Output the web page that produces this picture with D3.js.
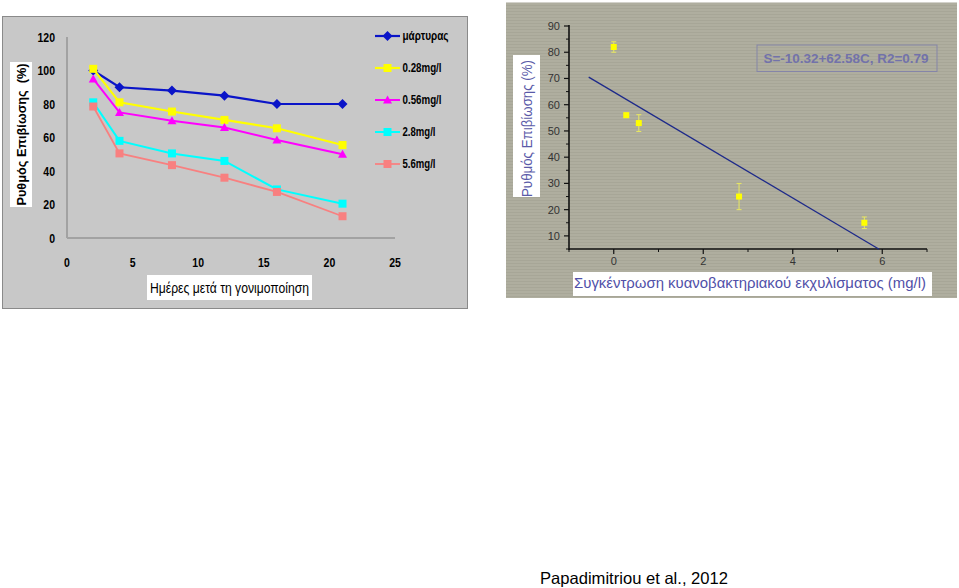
<!DOCTYPE html>
<html><head><meta charset="utf-8">
<script src="https://cdn.jsdelivr.net/npm/d3@7/dist/d3.min.js"></script>
<style>
body{margin:0;background:#fff;}
svg{display:block;}
text{font-family:"Liberation Sans",Arial,sans-serif;}
</style></head>
<body>
<svg id="c" width="959" height="588"></svg>
<script>
// ---- Left chart data ----
const days = [2, 4, 8, 12, 16, 21];
const seriesNames = ["μάρτυρας", "0.28mg/l", "0.56mg/l", "2.8mg/l", "5.6mg/l"];
const control = [100, 90, 88, 85, 80, 80];
const c028 = [101, 81, 75.5, 70.5, 65.5, 55.5];
const c056 = [95, 75, 70, 66, 58.5, 50];
const c28 = [81, 58, 50.5, 46, 29, 20.5];
const c56 = [78.5, 50.5, 43.5, 36, 27.5, 13];
const leftXTicks = [0, 5, 10, 15, 20, 25];
const leftYTicks = [0, 20, 40, 60, 80, 100, 120];

// ---- Right chart data ----
const conc = [0, 0.28, 0.56, 2.8, 5.6];
const survival = [82, 56, 53, 25, 15];
const survErr = [2, 0.8, 3.2, 5, 2.2];
const fitX = [-0.56, 5.93];
const fitY = [70.5, 4.9];
const rightXTicks = [0, 2, 4, 6];
const rightXMinor = [-1, 1, 3, 5, 7];
const rightYTicks = [10, 20, 30, 40, 50, 60, 70, 80, 90];
const rightYMinor = [5, 15, 25, 35, 45, 55, 65, 75, 85];

const svg = d3.select("#c");

// condense text horizontally (narrow font emulation)
function squeeze(sel, f){
  sel.each(function(){
    const w = this.getComputedTextLength();
    d3.select(this).attr("textLength", w*f).attr("lengthAdjust","spacingAndGlyphs");
  });
  return sel;
}
function fitW(sel, w){
  return sel.attr("textLength", w).attr("lengthAdjust","spacingAndGlyphs");
}

// ================= LEFT CHART =================
const L = svg.append("g");
L.append("rect").attr("x",2.5).attr("y",16.5).attr("width",465).attr("height",292)
  .attr("fill","#c8c8c8").attr("stroke","#8a8a8a").attr("stroke-width",1);

const lx = d3.scaleLinear().domain([0,25]).range([67,395]);
const ly = d3.scaleLinear().domain([0,120]).range([238,37]);

L.append("line").attr("x1",lx(0)).attr("x2",lx(0)).attr("y1",ly(120)).attr("y2",ly(0))
  .attr("stroke","#a2a2a2").attr("stroke-width",2);
L.append("line").attr("x1",lx(0)).attr("x2",lx(25)).attr("y1",ly(0)).attr("y2",ly(0))
  .attr("stroke","#a2a2a2").attr("stroke-width",2);

squeeze(L.selectAll(".ytl").data(leftYTicks).enter().append("text")
  .attr("x",55).attr("y",d=>ly(d)).attr("dy","0.36em").attr("text-anchor","end")
  .attr("font-size",12.5).attr("font-weight","bold").attr("fill","#000").text(d=>d), 0.84);
squeeze(L.selectAll(".xtl").data(leftXTicks).enter().append("text")
  .attr("x",d=>lx(d)).attr("y",262).attr("dy","0.36em").attr("text-anchor","middle")
  .attr("font-size",12.5).attr("font-weight","bold").attr("fill","#000").text(d=>d), 0.84);

// axis titles
L.append("rect").attr("x",10).attr("y",62).attr("width",22).attr("height",145).attr("fill","#fff");
fitW(L.append("text").attr("transform","translate(21.5,134.5) rotate(-90)")
  .attr("text-anchor","middle").attr("dy","0.36em").attr("font-size",13.5).attr("font-weight","bold")
  .attr("fill","#000").attr("xml:space","preserve").text("Ρυθμός Επιβίωσης  (%)"), 142);
L.append("rect").attr("x",147).attr("y",275).attr("width",165).attr("height",25).attr("fill","#fff");
fitW(L.append("text").attr("x",229.5).attr("y",288).attr("dy","0.36em")
  .attr("text-anchor","middle").attr("font-size",14).attr("fill","#000").text("Ημέρες μετά τη γονιμοποίηση"), 159);

const seriesVals = [control, c028, c056, c28, c56];
const colors = ["#0a14c8","#ffff00","#ff00ff","#00ffff","#f88080"];
const shapes = ["diamond","square","triangle","square","square"];
const widths = [2.2,2.2,2,2,1.8];

function marker(g, shape, x, y, color){
  if(shape==="diamond"){
    g.append("path").attr("d",`M${x},${y-5}L${x+5},${y}L${x},${y+5}L${x-5},${y}Z`).attr("fill",color);
  } else if(shape==="triangle"){
    g.append("path").attr("d",`M${x},${y-4.5}L${x+4.5},${y+3.5}L${x-4.5},${y+3.5}Z`).attr("fill",color);
  } else {
    g.append("rect").attr("x",x-4).attr("y",y-4).attr("width",8).attr("height",8).attr("fill",color);
  }
}

const line = d3.line().x((d,i)=>lx(days[i])).y(d=>ly(d));
seriesVals.forEach((vals,k)=>{
  const g = L.append("g");
  g.append("path").datum(vals).attr("d",line).attr("fill","none")
    .attr("stroke",colors[k]).attr("stroke-width",widths[k]);
  vals.forEach((v,i)=>marker(g, shapes[k], lx(days[i]), ly(v), colors[k]));
});

// legend
const legY = [36, 68, 100, 132, 164];
const legW = [46, 39, 39, 33, 33];
seriesNames.forEach((n,k)=>{
  const g = L.append("g");
  g.append("line").attr("x1",375).attr("x2",400).attr("y1",legY[k]).attr("y2",legY[k])
    .attr("stroke",colors[k]).attr("stroke-width",widths[k]);
  marker(g, shapes[k], 387.5, legY[k], colors[k]);
  fitW(g.append("text").attr("x",402.5).attr("y",legY[k]).attr("dy","0.36em")
    .attr("font-size",12).attr("font-weight","bold").attr("fill","#000").text(n), legW[k]);
});

// ================= RIGHT CHART =================
const R = svg.append("g");
const defs = svg.append("defs");
const pat = defs.append("pattern").attr("id","stripes").attr("width",4).attr("height",3)
  .attr("patternUnits","userSpaceOnUse");
pat.append("rect").attr("width",4).attr("height",3).attr("fill","#afae9f");
pat.append("rect").attr("width",4).attr("height",1).attr("y",2).attr("fill","#a7a697");

R.append("rect").attr("x",506).attr("y",2.5).attr("width",451).attr("height",295.5)
  .attr("fill","url(#stripes)");

const rx = d3.scaleLinear().domain([-1,7]).range([569,927]);
const ry = d3.scaleLinear().domain([5,90]).range([249,26]);

R.append("line").attr("x1",rx(-1)).attr("x2",rx(-1)).attr("y1",ry(90)-1).attr("y2",ry(5)+1)
  .attr("stroke","#111").attr("stroke-width",1.6);
R.append("line").attr("x1",rx(-1)).attr("x2",rx(7)).attr("y1",ry(5)).attr("y2",ry(5))
  .attr("stroke","#111").attr("stroke-width",1.6);

R.selectAll(".yt").data(rightYTicks).enter().append("line")
  .attr("x1",rx(-1)-5).attr("x2",rx(-1)).attr("y1",d=>ry(d)).attr("y2",d=>ry(d))
  .attr("stroke","#111").attr("stroke-width",1.2);
R.selectAll(".ym").data(rightYMinor).enter().append("line")
  .attr("x1",rx(-1)-3).attr("x2",rx(-1)).attr("y1",d=>ry(d)).attr("y2",d=>ry(d))
  .attr("stroke","#111").attr("stroke-width",1);
R.selectAll(".xt").data(rightXTicks).enter().append("line")
  .attr("x1",d=>rx(d)).attr("x2",d=>rx(d)).attr("y1",ry(5)).attr("y2",ry(5)+5)
  .attr("stroke","#111").attr("stroke-width",1.2);
R.selectAll(".xm").data(rightXMinor).enter().append("line")
  .attr("x1",d=>rx(d)).attr("x2",d=>rx(d)).attr("y1",ry(5)).attr("y2",ry(5)+3)
  .attr("stroke","#111").attr("stroke-width",1);

R.selectAll(".ytl").data(rightYTicks).enter().append("text")
  .attr("x",560).attr("y",d=>ry(d)).attr("dy","0.36em").attr("text-anchor","end")
  .attr("font-size",11).attr("fill","#333").text(d=>d);
R.selectAll(".xtl").data(rightXTicks).enter().append("text")
  .attr("x",d=>rx(d)).attr("y",261).attr("dy","0.36em").attr("text-anchor","middle")
  .attr("font-size",11).attr("fill","#333").text(d=>d);

// fit line
R.append("line").attr("x1",rx(fitX[0])).attr("y1",ry(fitY[0])).attr("x2",rx(fitX[1])).attr("y2",ry(fitY[1]))
  .attr("stroke","#1e2a8a").attr("stroke-width",1.3);

// error bars and points
conc.forEach((c,i)=>{
  const x = rx(c);
  R.append("line").attr("x1",x).attr("x2",x).attr("y1",ry(survival[i]+survErr[i])).attr("y2",ry(survival[i]-survErr[i]))
    .attr("stroke","#e8e860").attr("stroke-width",1);
  [survival[i]+survErr[i], survival[i]-survErr[i]].forEach(v=>{
    R.append("line").attr("x1",x-2.5).attr("x2",x+2.5).attr("y1",ry(v)).attr("y2",ry(v))
      .attr("stroke","#e8e860").attr("stroke-width",1);
  });
  R.append("rect").attr("x",x-3).attr("y",ry(survival[i])-3).attr("width",6).attr("height",6).attr("fill","#ffff00");
});

// annotation box
R.append("rect").attr("x",757).attr("y",45).attr("width",180).attr("height",26.5)
  .attr("fill","none").attr("stroke","#8585a8").attr("stroke-width",1);
fitW(R.append("text").attr("x",846).attr("y",58.5).attr("dy","0.36em").attr("text-anchor","middle")
  .attr("font-size",13.5).attr("font-weight","bold").attr("fill","#7272aa")
  .text("S=-10.32+62.58C, R2=0.79"), 165);

// axis titles
R.append("rect").attr("x",513).attr("y",55).attr("width",27).attr("height",142).attr("fill","#fff");
fitW(R.append("text").attr("transform","translate(527,128.5) rotate(-90)").attr("text-anchor","middle").attr("dy","0.36em")
  .attr("font-size",15).attr("fill","#5a5aa8")
  .text("Ρυθμός Επιβίωσης (%)"), 137);
R.append("rect").attr("x",573).attr("y",272).attr("width",359).attr("height",24).attr("fill","#fff");
fitW(R.append("text").attr("x",750).attr("y",283).attr("dy","0.36em").attr("text-anchor","middle")
  .attr("font-size",15).attr("fill","#5050a8")
  .text("Συγκέντρωση κυανοβακτηριακού εκχυλίσματος (mg/l)"), 352);

// citation
fitW(svg.append("text").attr("x",634).attr("y",583.5).attr("text-anchor","middle")
  .attr("font-size",16.5).attr("fill","#000")
  .text("Papadimitriou et al., 2012"), 188);
</script>
</body></html>
